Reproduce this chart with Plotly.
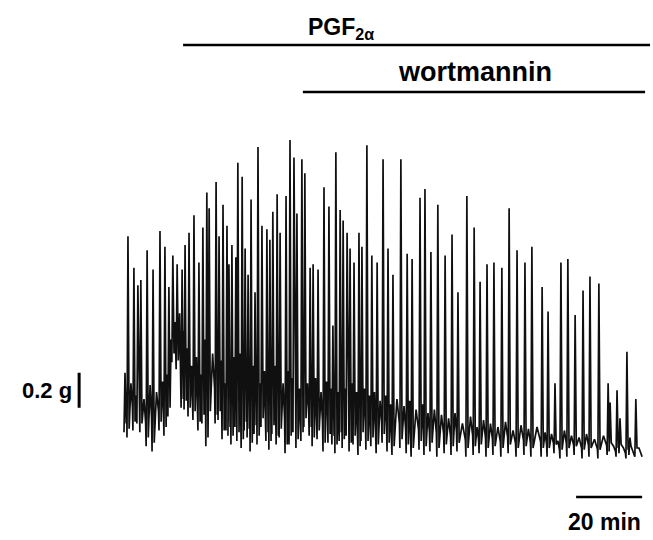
import plotly.graph_objects as go

# Isometric tension recording: spontaneous contractions, then PGF2a, then wortmannin.
# Time of each contraction peak (min from start of trace)
spike_time = [0.0, 0.9, 2.7, 3.9, 4.8, 6.7, 8.5, 10.6, 12.1, 13.3,
              14.5, 15.8, 17.3, 18.2, 19.4, 20.9, 22.4, 23.6, 24.8, 25.5,
              27.6, 28.5, 29.7, 30.9, 31.5, 32.4, 33.6, 34.2, 35.5, 36.4,
              37.3, 38.2, 39.4, 40.3, 41.5, 43.0, 43.9, 44.8, 46.1, 47.0,
              48.8, 50.0, 51.2, 52.1, 53.6, 54.5, 56.1, 57.0, 58.5, 60.3,
              61.8, 63.0, 63.9, 65.2, 66.1, 67.3, 68.2, 69.4, 70.9, 71.8,
              73.3, 74.8, 76.4, 78.2, 79.7, 81.2, 83.6, 85.5, 87.0, 89.4,
              90.9, 92.7, 94.8, 97.0, 99.1, 100.9, 103.6, 105.8, 107.6, 109.7,
              111.8, 114.2, 116.4, 118.8, 121.2, 123.3, 126.4, 128.2, 130.3, 132.1,
              134.2, 136.4, 138.8, 140.9, 143.6, 146.4, 147.0, 149.1, 150.0, 152.1,
              153.0, 154.8]

# Peak tension of each contraction (g)
spike_peak = [0.51, 1.29, 1.11, 1.01, 1.04, 1.21, 1.10, 1.32, 1.23, 1.00,
              1.18, 1.13, 1.10, 1.24, 1.31, 1.41, 1.14, 1.34, 1.54, 1.45,
              1.60, 1.29, 1.47, 1.35, 1.13, 1.24, 1.17, 1.71, 1.63, 1.22,
              1.07, 1.50, 0.97, 1.80, 1.35, 1.33, 1.27, 1.43, 1.53, 1.31,
              1.52, 1.84, 1.74, 1.42, 1.73, 1.65, 1.11, 1.13, 1.10, 1.57,
              1.46, 0.78, 1.77, 1.44, 1.38, 1.31, 1.22, 1.14, 1.31, 1.23,
              1.81, 1.18, 1.14, 1.73, 1.22, 1.07, 1.73, 1.19, 1.16, 1.51,
              1.56, 1.20, 1.47, 1.18, 1.30, 0.97, 1.52, 1.34, 1.03, 1.13,
              1.14, 1.11, 1.45, 1.21, 1.14, 1.23, 1.00, 0.86, 0.45, 1.14,
              1.16, 0.84, 0.98, 1.06, 1.02, 0.45, 0.34, 0.41, 0.25, 0.63,
              0.14, 0.36]

# Resting tension just before each contraction (g)
spike_trough = [0.17, 0.14, 0.18, 0.22, 0.17, 0.09, 0.06, 0.18, 0.15, 0.26,
                0.57, 0.53, 0.31, 0.30, 0.26, 0.24, 0.18, 0.22, 0.09, 0.24,
                0.22, 0.24, 0.13, 0.18, 0.15, 0.10, 0.20, 0.12, 0.08, 0.18,
                0.14, 0.06, 0.16, 0.10, 0.20, 0.12, 0.07, 0.16, 0.10, 0.14,
                0.05, 0.10, 0.17, 0.08, 0.12, 0.20, 0.15, 0.09, 0.13, 0.06,
                0.11, 0.10, 0.05, 0.12, 0.08, 0.15, 0.06, 0.10, 0.04, 0.12,
                0.07, 0.09, 0.05, 0.11, 0.06, 0.04, 0.08, 0.05, 0.03, 0.07,
                0.04, 0.06, 0.03, 0.05, 0.04, 0.06, 0.03, 0.04, 0.05, 0.03,
                0.04, 0.03, 0.05, 0.03, 0.04, 0.03, 0.03, 0.03, 0.05, 0.02,
                0.03, 0.04, 0.02, 0.03, 0.02, 0.04, 0.06, 0.03, 0.05, 0.02,
                0.04, 0.03]

# Tone reached during relaxation between contractions (g)
spike_tone = [0.40, 0.45, 0.38, 0.42, 0.36, 0.44, 0.40, 0.46, 0.50, 0.70,
              0.80, 0.85, 0.75, 0.65, 0.55, 0.60, 0.50, 0.70, 0.55, 0.62,
              0.50, 0.58, 0.45, 0.52, 0.55, 0.60, 0.50, 0.62, 0.48, 0.58,
              0.50, 0.55, 0.60, 0.45, 0.52, 0.58, 0.48, 0.55, 0.50, 0.45,
              0.52, 0.48, 0.55, 0.42, 0.50, 0.45, 0.52, 0.48, 0.40, 0.46,
              0.42, 0.45, 0.40, 0.48, 0.42, 0.38, 0.45, 0.40, 0.36, 0.42,
              0.38, 0.40, 0.35, 0.38, 0.33, 0.36, 0.32, 0.35, 0.30, 0.33,
              0.28, 0.30, 0.27, 0.25, 0.28, 0.22, 0.26, 0.20, 0.24, 0.22,
              0.20, 0.23, 0.18, 0.21, 0.19, 0.20, 0.17, 0.16, 0.12, 0.18,
              0.15, 0.14, 0.16, 0.13, 0.15, 0.10, 0.09, 0.10, 0.08, 0.12,
              0.06, 0.08]

TRACE_END = 156.7      # min
FINAL_REST = 0.03      # g

PGF_START, PGF_END = 17.6, 159.1
WORT_START, WORT_END = 53.9, 157.6
SCALE_MIN = 20         # horizontal calibration (min)
SCALE_G = 0.2          # vertical calibration (g)

# Assemble the tracing: rest -> fast rise -> fast fall -> relaxation tone -> next rest
xs, ys = [], []
n = len(spike_time)
for i in range(n):
    t = spike_time[i]
    nxt = spike_time[i + 1] if i + 1 < n else TRACE_END
    nxt_rest = spike_trough[i + 1] if i + 1 < n else FINAL_REST
    gap = nxt - t
    xs += [t - 0.3, t, t + 0.35]
    ys += [spike_trough[i], spike_peak[i], spike_trough[i] + 0.05]
    if gap > 1.2:
        xs += [t + 0.5 * gap, nxt - 0.45]
        ys += [spike_tone[i], 0.5 * (spike_tone[i] + nxt_rest)]
    else:
        xs += [t + 0.55 * gap]
        ys += [spike_tone[i]]
xs.append(TRACE_END)
ys.append(FINAL_REST)

fig = go.Figure()
fig.add_trace(go.Scatter(x=xs, y=ys, mode="lines",
                         line=dict(color="#101010", width=1.7),
                         hoverinfo="skip", showlegend=False))

# px-per-unit layout: 3.3 px/min, 175 px/g, trace origin at (125, 462)
X_RANGE = [-125 / 3.3, (653 - 125) / 3.3]
Y_RANGE = [(462 - 540) / 175, 462 / 175]

bar = dict(color="black", width=2.4)
shapes = [
    dict(type="line", x0=PGF_START, x1=PGF_END, y0=2.383, y1=2.383, line=bar),
    dict(type="line", x0=WORT_START, x1=WORT_END, y0=2.114, y1=2.114, line=bar),
    dict(type="line", x0=-13.9, x1=-13.9, y0=0.31, y1=0.31 + SCALE_G,
         line=dict(color="black", width=3)),
    dict(type="line", x0=TRACE_END - SCALE_MIN, x1=TRACE_END, y0=-0.20, y1=-0.20,
         line=bar),
]

FAMILY = "Liberation Sans, Arial, sans-serif"
annotations = [
    dict(x=65.4, y=2.48, text="<b>PGF<sub>2α</sub></b>", showarrow=False,
         xanchor="center", yanchor="middle",
         font=dict(family=FAMILY, size=23, color="black")),
    dict(x=106.0, y=2.23, text="<b>wortmannin</b>", showarrow=False,
         xanchor="center", yanchor="middle",
         font=dict(family=FAMILY, size=27, color="black")),
    dict(x=-15.4, y=0.41, text="<b>0.2 g</b>", showarrow=False,
         xanchor="right", yanchor="middle",
         font=dict(family=FAMILY, size=22, color="black")),
    dict(x=145.2, y=-0.345, text="<b>20 min</b>", showarrow=False,
         xanchor="center", yanchor="middle",
         font=dict(family=FAMILY, size=23, color="black")),
]

fig.update_layout(
    width=653, height=540,
    margin=dict(l=0, r=0, t=0, b=0),
    paper_bgcolor="white", plot_bgcolor="white",
    xaxis=dict(range=X_RANGE, visible=False, fixedrange=True),
    yaxis=dict(range=Y_RANGE, visible=False, fixedrange=True),
    shapes=shapes, annotations=annotations,
)

fig.write_html("out.html")
